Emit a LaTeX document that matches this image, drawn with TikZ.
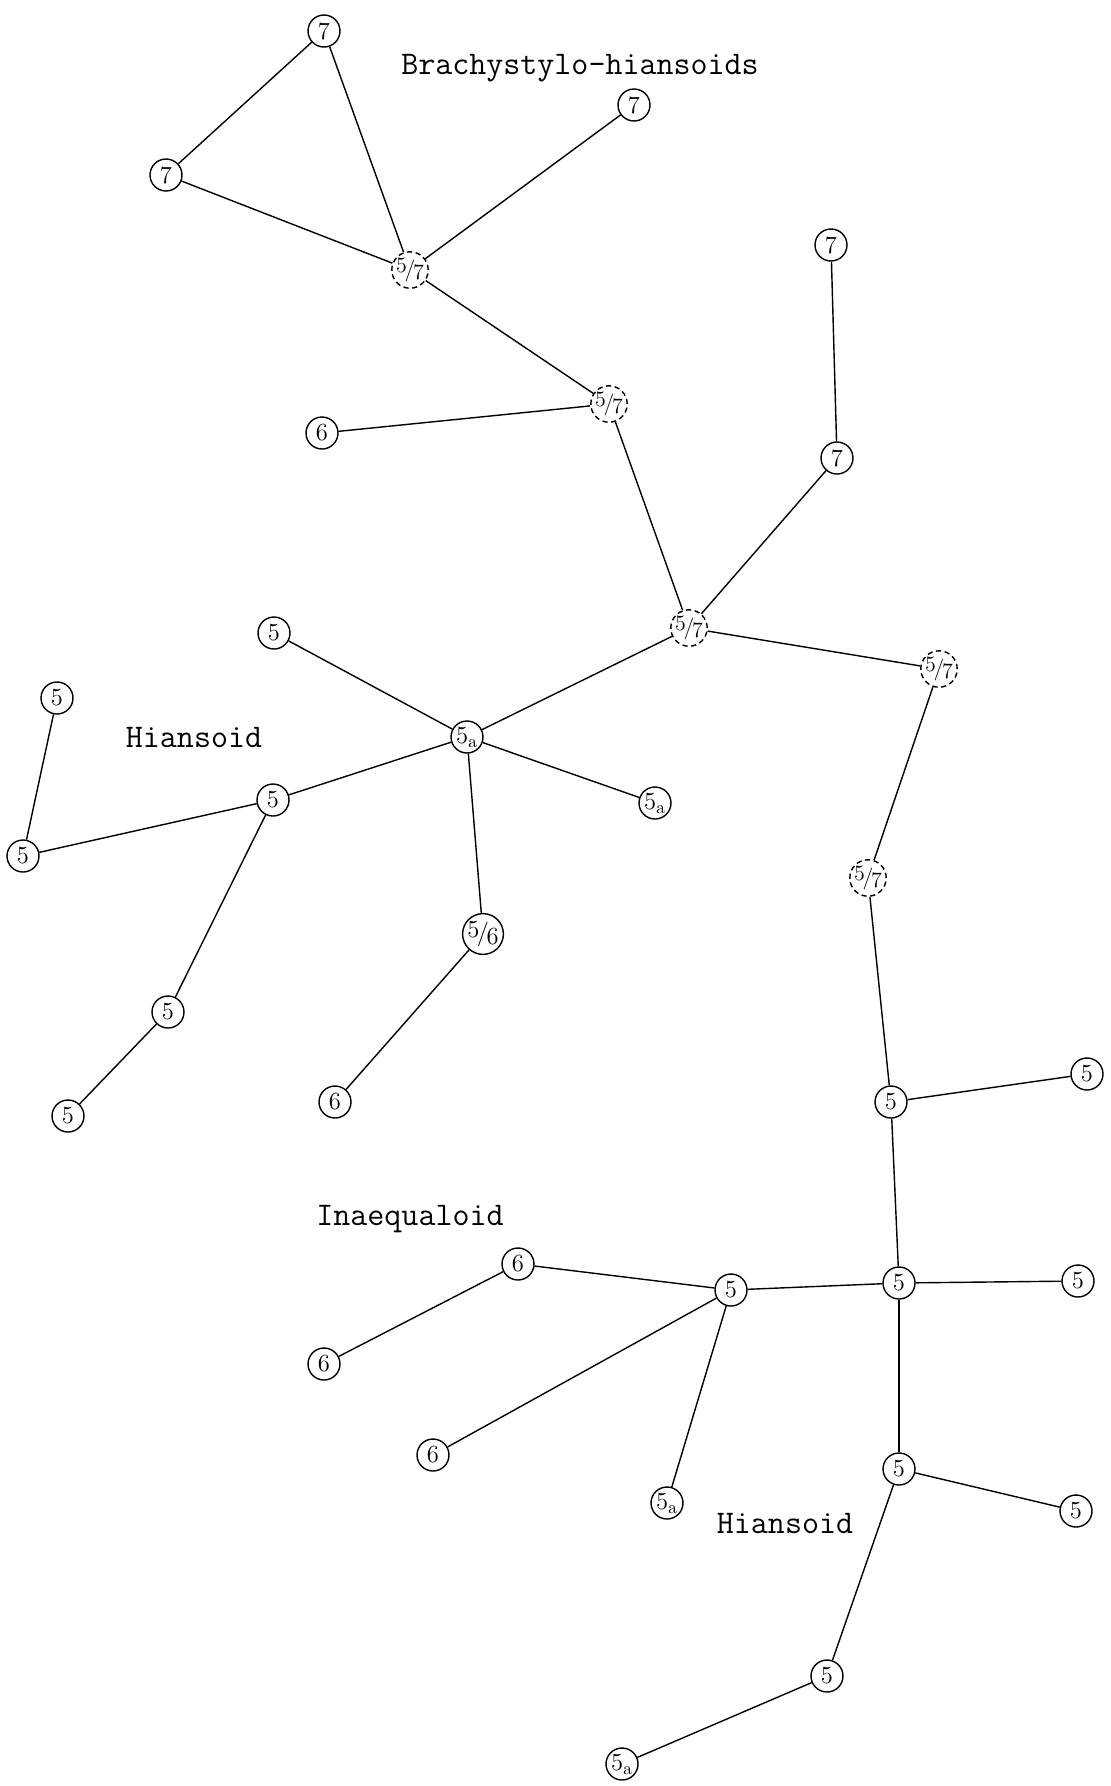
\documentclass[tikz,border=0pt]{standalone}
\usetikzlibrary{positioning}
\newcommand{\frc}[2]{\raisebox{.35ex}{#1}\kern-.1em/\kern-.1em\raisebox{-.35ex}{#2}}

\begin{document}
\begin{tikzpicture}[
  x=0.02cm, y=-0.02cm,
  every node/.style={font=\fontsize{14}{15}\selectfont},
  taxon/.style={draw,circle,line width=0.8pt,inner sep=0pt,minimum size=0.64cm},
  mixed/.style={taxon,densely dashed,minimum size=0.72cm,font=\fontsize{12.5}{13}\selectfont},
  link/.style={line width=0.8pt},
  group/.style={font=\ttfamily\fontsize{18.8}{20}\selectfont}
]
\useasboundingbox (0,0) rectangle (1110,1786);

% Brachystylo-hiansoids
\node[taxon] (s7a) at (324,31) {7};
\node[taxon] (s7b) at (166,175) {7};
\node[taxon] (s7c) at (634,105) {7};
\node[mixed] (m57a) at (410,270) {\frc57};
\node[mixed] (m57b) at (609,404) {\frc57};
\node[taxon] (s6a) at (322,433) {6};
\node[group] (tbrachy) at (580,68) {Brachystylo-hiansoids};

\node[taxon] (u7a) at (831,245) {7};
\node[taxon] (u7b) at (837,458) {7};
\node[mixed] (m57c) at (689,628) {\frc57};
\node[mixed] (m57d) at (939,669) {\frc57};
\node[mixed] (m57e) at (868,878) {\frc57};

% Hiansoid (links)
\node[taxon] (h5a) at (467,737) {5$_{\mathrm{a}}$};
\node[taxon] (h5n) at (274,633) {5};
\node[taxon] (h5ar) at (655,803) {5$_{\mathrm{a}}$};
\node[taxon] (h56) at (483,934) {\frc56};
\node[taxon] (h6) at (335,1102) {6};
\node[taxon] (h5) at (273,800) {5};
\node[taxon] (h5w) at (23,856) {5};
\node[taxon] (h5nw) at (57,698) {5};
\node[taxon] (h5s) at (168,1012) {5};
\node[taxon] (h5sw) at (68,1116) {5};
\node[group] (thians) at (194,737) {Hiansoid};

% Inaequaloid / Hiansoid (unten)
\node[taxon] (r5) at (891,1102) {5};
\node[taxon] (r5e) at (1087,1074) {5};
\node[taxon] (q5) at (899,1283) {5};
\node[taxon] (q5e) at (1078,1281) {5};
\node[taxon] (p5) at (731,1290) {5};
\node[taxon] (p6a) at (518,1264) {6};
\node[taxon] (p6b) at (324,1364) {6};
\node[taxon] (p6c) at (433,1455) {6};
\node[taxon] (p5a) at (667,1503) {5$_{\mathrm{a}}$};
\node[taxon] (k5) at (899,1469) {5};
\node[taxon] (k5e) at (1076,1511) {5};
\node[taxon] (k5s) at (827,1676) {5};
\node[taxon] (k5a) at (622,1764) {5$_{\mathrm{a}}$};
\node[group] (tinaeq) at (410,1219) {Inaequaloid};
\node[group] (thians2) at (785,1523) {Hiansoid};

% Verbindungen
\foreach \a/\b in {s7a/s7b,s7a/m57a,s7b/m57a,s7c/m57a,m57a/m57b,m57b/s6a,
    m57b/m57c,u7a/u7b,u7b/m57c,m57c/m57d,m57d/m57e,m57e/r5,
    m57c/h5a,h5a/h5n,h5a/h5ar,h5a/h56,h56/h6,h5a/h5,h5/h5w,h5w/h5nw,
    h5/h5s,h5s/h5sw,
    r5/r5e,r5/q5,q5/q5e,q5/p5,p5/p6a,p6a/p6b,p5/p6c,p5/p5a,
    q5/k5,k5/k5e,k5/k5s,k5s/k5a}
  \draw[link] (\a) -- (\b);
\end{tikzpicture}
\end{document}
